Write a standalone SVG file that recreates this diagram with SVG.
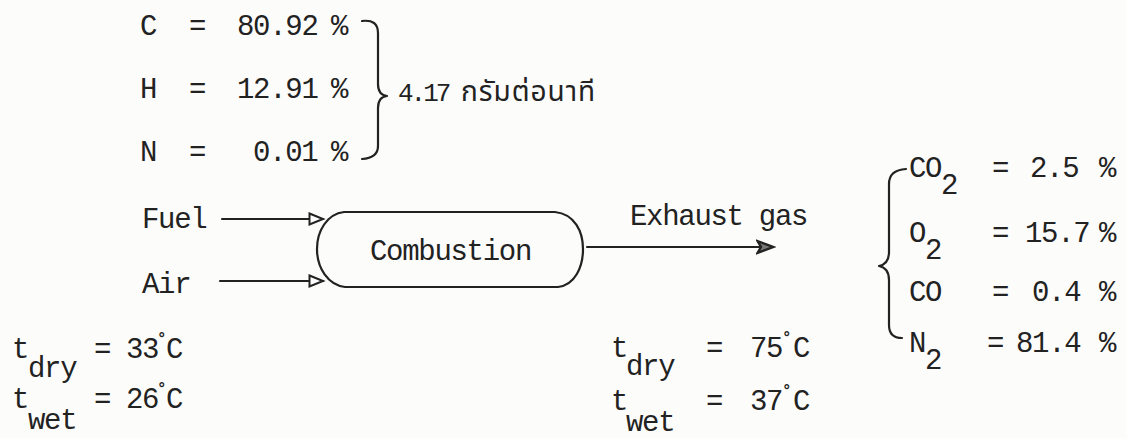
<svg xmlns="http://www.w3.org/2000/svg" width="1126" height="438" viewBox="0 0 1126 438">
<style>
.t{font-family:"Liberation Mono","Courier New",monospace;font-size:29px;letter-spacing:-1.3px;fill:#222}
.th{font-family:"Liberation Mono","Courier New",monospace;font-size:26px;letter-spacing:-3px;fill:#222}
.thai{font-family:"Noto Sans Thai","Noto Serif Thai","Noto Sans",sans-serif;font-size:28px;letter-spacing:1px;fill:#222}
.deg{font-family:"DejaVu Sans",sans-serif;font-size:15px;font-weight:bold;fill:#222}
.ln{fill:none;stroke:#222;stroke-width:2.2;stroke-linecap:round;stroke-linejoin:round}
</style>
<defs>
<marker id="oa" markerWidth="18" markerHeight="14" refX="15" refY="7" orient="auto" markerUnits="userSpaceOnUse">
<path d="M1.5,1.5 L15,7 L1.5,12.5 Z" fill="#ffffff" stroke="#222" stroke-width="2"/>
</marker>
<marker id="fa" markerWidth="20" markerHeight="16" refX="17" refY="8" orient="auto" markerUnits="userSpaceOnUse">
<path d="M1.5,2 L17,8 L1.5,14 L5,8 Z" fill="#777" stroke="#222" stroke-width="2.4"/>
</marker>
</defs>
<rect width="1126" height="438" fill="#fcfcfa"/>

<g id="fuel-composition">
<text class="t" x="140" y="35">C</text><text class="t" x="189" y="35">=</text><text class="t" x="237" y="35">80.92</text><text class="t" x="331" y="35">%</text>
<text class="t" x="140" y="98">H</text><text class="t" x="189" y="98">=</text><text class="t" x="237" y="98">12.91</text><text class="t" x="331" y="98">%</text>
<text class="t" x="140" y="161">N</text><text class="t" x="189" y="161">=</text><text class="t" x="253" y="161">0.01</text><text class="t" x="331" y="161">%</text>
<path class="ln" d="M362,21 Q378,19 378,33 L378,84 Q378,95 387,96 Q378,97 378,108 L378,146 Q378,158 362,159"/>
<text class="th" x="398" y="101">4.17</text>
<text class="thai" x="461" y="101">กรัมต่อนาที</text>
</g>

<g id="fuel-label"><text class="t" x="142" y="228">Fuel</text></g>
<g id="air-label"><text class="t" x="142" y="293">Air</text></g>

<g id="combustion">
<path class="ln" d="M344,212 L555,212 C575,214 583,232 583,249 C583,267 575,285 558,287 L345,287 C328,285 317,268 317,249 C317,231 327,214 344,212 Z"/>
<text class="t" x="370" y="260">Combustion</text>
</g>

<g id="exhaust-label"><text class="t" x="630" y="225">Exhaust gas</text></g>

<g id="connectors">
<line class="ln" x1="222" y1="219" x2="323" y2="219" marker-end="url(#oa)"/>
<line class="ln" x1="220" y1="281" x2="323" y2="281" marker-end="url(#oa)"/>
<line class="ln" x1="587" y1="247" x2="773" y2="247" marker-end="url(#fa)"/>
</g>

<g id="exhaust-composition">
<path class="ln" d="M906,169 Q889,170 889,184 L889,252 Q889,264 879,266 Q889,268 889,280 L889,325 Q889,338 902,338"/>
<text class="t" x="909" y="177">CO</text><text class="t" x="941" y="194">2</text><text class="t" x="992" y="177">=</text><text class="t" x="1030" y="177">2.5</text><text class="t" x="1099" y="177">%</text>
<text class="t" x="909" y="242">O</text><text class="t" x="925" y="259">2</text><text class="t" x="992" y="242">=</text><text class="t" x="1025" y="242">15.7</text><text class="t" x="1099" y="242">%</text>
<text class="t" x="909" y="301">CO</text><text class="t" x="992" y="301">=</text><text class="t" x="1032" y="301">0.4</text><text class="t" x="1099" y="301">%</text>
<text class="t" x="909" y="352">N</text><text class="t" x="925" y="369">2</text><text class="t" x="987" y="352">=</text><text class="t" x="1016" y="352">81.4</text><text class="t" x="1099" y="352">%</text>
</g>

<g id="inlet-conditions">
<text class="t" x="12" y="358">t</text><text class="t" x="28" y="377">dry</text><text class="t" x="94" y="358">=</text><text class="t" x="126" y="358">33</text><text class="deg" x="158" y="344">°</text><text class="t" x="166" y="358">C</text>
<text class="t" x="12" y="408">t</text><text class="t" x="28" y="429">wet</text><text class="t" x="94" y="408">=</text><text class="t" x="126" y="408">26</text><text class="deg" x="158" y="394">°</text><text class="t" x="166" y="408">C</text>
</g>

<g id="outlet-conditions">
<text class="t" x="611" y="357">t</text><text class="t" x="626" y="375">dry</text><text class="t" x="706" y="357">=</text><text class="t" x="750" y="357">75</text><text class="deg" x="783" y="343">°</text><text class="t" x="793" y="357">C</text>
<text class="t" x="611" y="410">t</text><text class="t" x="626" y="431">wet</text><text class="t" x="706" y="410">=</text><text class="t" x="750" y="410">37</text><text class="deg" x="783" y="396">°</text><text class="t" x="793" y="410">C</text>
</g>
</svg>
